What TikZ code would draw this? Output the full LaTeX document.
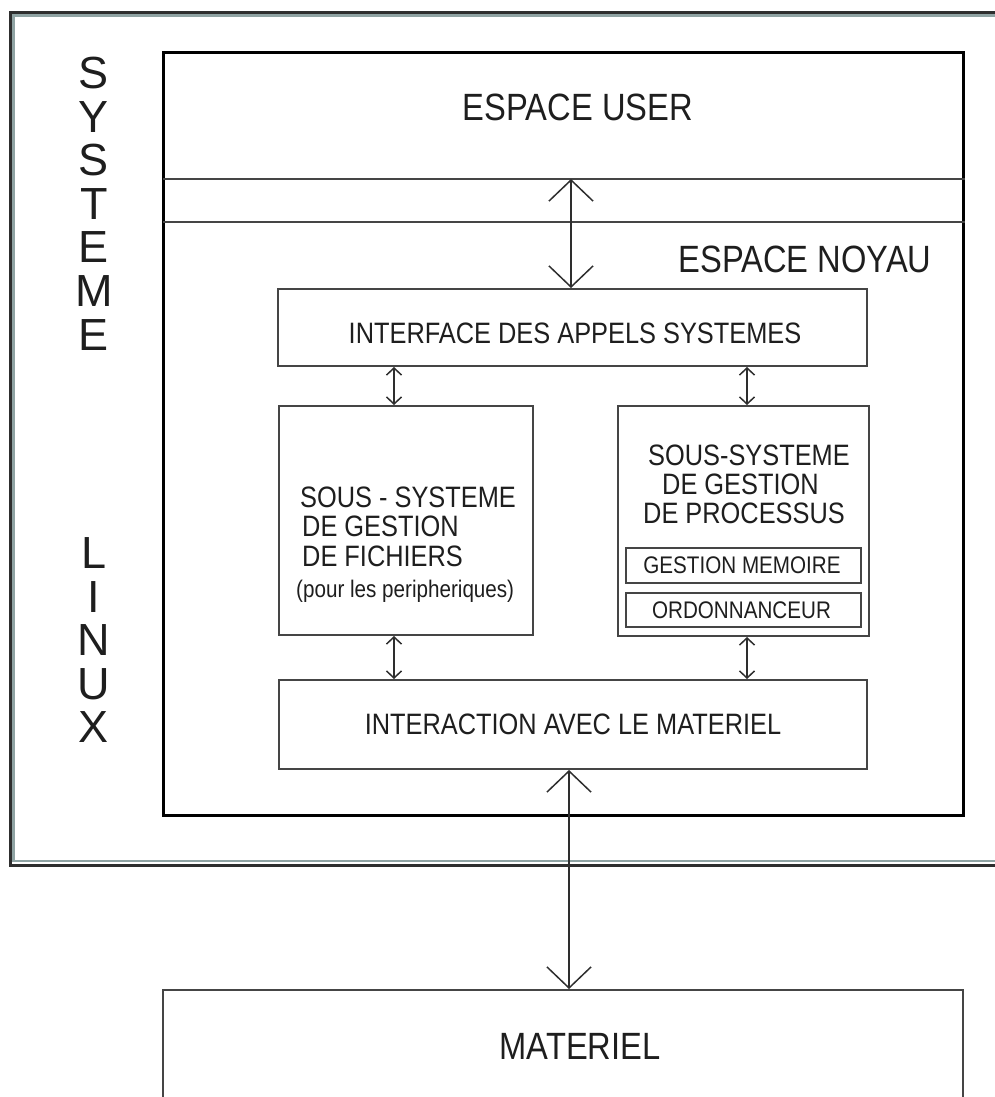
\documentclass[tikz,border=0pt]{standalone}
\usepackage{fontspec}
\setmainfont{Liberation Sans}[FakeStretch=0.86]
\newfontfamily\widefont{Liberation Sans}
\usetikzlibrary{arrows.meta,calc}
\definecolor{linegray}{HTML}{454545}
\definecolor{framedark}{HTML}{2E2E2E}
\definecolor{framelight}{HTML}{8FA3A3}
\definecolor{txt}{HTML}{1E1E1E}
\newcommand{\fsz}[1]{\fontsize{#1}{#1}\selectfont}
\tikzset{
  box/.style={draw=linegray, line width=2pt, inner sep=0, fill=none},
  sepline/.style={draw=linegray, line width=2pt},
  lbl/.style={inner sep=0, text=txt},
  bigarr/.style={draw=framedark, line width=1.5pt,
    {Straight Barb[length=21pt,width=44pt]}-{Straight Barb[length=21pt,width=44pt]}},
  smarr/.style={draw=framedark, line width=1.5pt,
    {Straight Barb[length=7pt,width=15pt]}-{Straight Barb[length=7pt,width=15pt]}},
  vlet/.style={inner sep=0, text=txt, font=\widefont\fsz{45}}
}
\begin{document}
\begin{tikzpicture}[x=1pt,y=-1pt]
\clip (0,0) rectangle (995,1097);
\fill[white] (0,0) rectangle (995,1097);
% outer frame
\draw[framedark, line width=3pt] (10.5,12.5) rectangle (1010,865.5);
\draw[framelight, line width=2.5pt] (13.5,15.5) rectangle (1010,861);
% vertical title
\foreach \l/\y [count=\i] in {S/73,Y/116.6,S/160,T/204,E/247,M/291,E/335,L/553,I/597,N/640,U/684,X/727}
  \node[vlet] (v\i) at (94,\y) {\l};
% system box
\node[draw=black, line width=3pt, inner sep=0, minimum width=800pt, minimum height=762pt] (sys) at (563,434) {};
\coordinate (s1) at (163,179);
\coordinate (s2) at (163,222);
\draw[sepline] (s1) -- (s1 -| sys.east);
\draw[sepline] (s2) -- (s2 -| sys.east);
\node[lbl, font=\fsz{38}] (eu) at (578,107) {ESPACE USER};
\node[lbl, font=\fsz{38}] (en) at (805,259) {ESPACE NOYAU};
% interface
\node[box, minimum width=589pt, minimum height=77pt] (iface) at (572.5,327.5) {};
\node[lbl, font=\fsz{29.5}] (ti) at (575,333) {INTERFACE DES APPELS SYSTEMES};
% left subsystem
\node[box, minimum width=254pt, minimum height=229pt] (subl) at (406,520.5) {};
\node[lbl, font=\fsz{29.5}, anchor=west] (l1) at (300,497) {SOUS - SYSTEME};
\node[lbl, font=\fsz{29.5}, anchor=west] (l2) at (302,526) {DE GESTION};
\node[lbl, font=\fsz{29.5}, anchor=west] (l3) at (302,556) {DE FICHIERS};
\node[lbl, font=\fsz{24}, anchor=base west] (l4) at (296,597) {(pour les peripheriques)};
% right subsystem
\node[box, minimum width=251pt, minimum height=230pt] (subr) at (743.5,521) {};
\node[lbl, font=\fsz{29.5}, anchor=west] (r1) at (648,455) {SOUS-SYSTEME};
\node[lbl, font=\fsz{29.5}, anchor=west] (r2) at (662,484) {DE GESTION};
\node[lbl, font=\fsz{29.5}, anchor=west] (r3) at (643,513) {DE PROCESSUS};
\node[box, minimum width=235pt, minimum height=35pt] (gm) at (743.5,565.5) {};
\node[lbl, font=\fsz{24}] (tgm) at (742,565.5) {GESTION MEMOIRE};
\node[box, minimum width=235pt, minimum height=34pt] (ord) at (743.5,610) {};
\node[lbl, font=\fsz{24}] (tord) at (741.5,610) {ORDONNANCEUR};
% interaction
\node[box, minimum width=588pt, minimum height=89pt] (inter) at (573,724.5) {};
\node[lbl, font=\fsz{29.5}] (tint) at (573,724) {INTERACTION AVEC LE MATERIEL};
% materiel
\node[box, minimum width=800pt, minimum height=200pt, anchor=north] (mat) at (563,989) {};
\node[lbl, font=\fsz{38}] (tmat) at (580,1046) {MATERIEL};
% arrows
\coordinate (ax) at (571,0);
\coordinate (bx) at (569,0);
\coordinate (lx) at (394,0);
\coordinate (rx) at (747,0);
\draw[bigarr] (s1 -| ax) -- (iface.north -| ax);
\draw[bigarr] (inter.south -| bx) -- (mat.north -| bx);
\draw[smarr] (iface.south -| lx) -- (subl.north -| lx);
\draw[smarr] (iface.south -| rx) -- (subr.north -| rx);
\draw[smarr] (subl.south -| lx) -- (inter.north -| lx);
\draw[smarr] (subr.south -| rx) -- (inter.north -| rx);
\end{tikzpicture}
\end{document}
